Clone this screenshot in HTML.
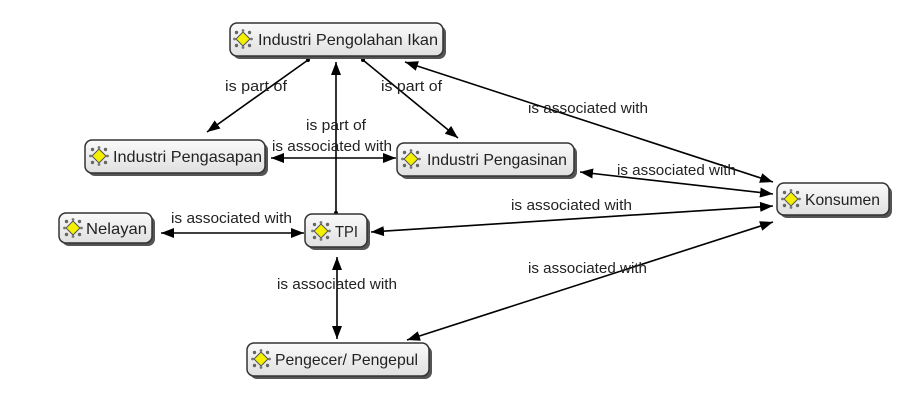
<!DOCTYPE html>
<html><head><meta charset="utf-8"><style>
html,body{margin:0;padding:0;background:#fff;}
svg{display:block;}
.n{font-family:"Liberation Sans",sans-serif;font-size:16px;fill:#222;}
.l{font-family:"Liberation Sans",sans-serif;font-size:15px;fill:#222;}
.e{stroke:#000;stroke-width:1.6;fill:none;}
</style></head><body>
<svg width="923" height="419" viewBox="0 0 923 419" xmlns="http://www.w3.org/2000/svg">
<defs>
<marker id="a" viewBox="0 0 13 10" refX="13" refY="5" markerWidth="13" markerHeight="10" markerUnits="userSpaceOnUse" orient="auto-start-reverse">
<path d="M0,0 L13,5 L0,10 z" fill="#000"/>
</marker>
<linearGradient id="g" x1="0" y1="0" x2="0" y2="1">
<stop offset="0" stop-color="#fafafa"/><stop offset="1" stop-color="#e0e0e0"/>
</linearGradient>
<g id="ic">
<circle cx="-6.5" cy="-6.5" r="1.7" fill="#666"/><circle cx="6.5" cy="-6.5" r="1.7" fill="#666"/>
<circle cx="-6.5" cy="6.5" r="1.7" fill="#666"/><circle cx="6.5" cy="6.5" r="1.7" fill="#666"/>
<circle cx="0" cy="-8.5" r="1.4" fill="#777"/><circle cx="0" cy="8.5" r="1.4" fill="#777"/>
<circle cx="-8.5" cy="0" r="1.4" fill="#777"/><circle cx="8.5" cy="0" r="1.4" fill="#777"/>
<path d="M0,-7 L7,0 L0,7 L-7,0 z" fill="#f4f000" stroke="#555" stroke-width="1"/>
</g>
</defs>

<!-- edges -->
<line class="e" x1="308" y1="60" x2="207" y2="132" marker-end="url(#a)"/>
<circle cx="308" cy="60" r="2" fill="#000"/>
<line class="e" x1="363" y1="60" x2="458" y2="138" marker-end="url(#a)"/>
<circle cx="363" cy="60" r="2" fill="#000"/>
<line class="e" x1="336" y1="213" x2="336" y2="62" marker-end="url(#a)"/>
<circle cx="336" cy="213" r="2" fill="#000"/>
<line class="e" x1="271" y1="158" x2="396" y2="158" marker-start="url(#a)" marker-end="url(#a)"/>
<line class="e" x1="405" y1="62" x2="773" y2="182" marker-start="url(#a)" marker-end="url(#a)"/>
<line class="e" x1="580" y1="172" x2="773" y2="194" marker-start="url(#a)" marker-end="url(#a)"/>
<line class="e" x1="371" y1="232" x2="773" y2="206" marker-start="url(#a)" marker-end="url(#a)"/>
<line class="e" x1="161" y1="233" x2="304" y2="233" marker-start="url(#a)" marker-end="url(#a)"/>
<line class="e" x1="337" y1="257" x2="337" y2="339" marker-start="url(#a)" marker-end="url(#a)"/>
<line class="e" x1="407" y1="340" x2="773" y2="222" marker-start="url(#a)" marker-end="url(#a)"/>

<!-- labels -->
<text class="l" x="225" y="91" textLength="62" lengthAdjust="spacingAndGlyphs">is part of</text>
<text class="l" x="381" y="91" textLength="61" lengthAdjust="spacingAndGlyphs">is part of</text>
<text class="l" x="306" y="130" textLength="60" lengthAdjust="spacingAndGlyphs">is part of</text>
<text class="l" x="272" y="151" textLength="120" lengthAdjust="spacingAndGlyphs">is associated with</text>
<text class="l" x="528" y="113" textLength="120" lengthAdjust="spacingAndGlyphs">is associated with</text>
<text class="l" x="617" y="175" textLength="119" lengthAdjust="spacingAndGlyphs">is associated with</text>
<text class="l" x="511" y="210" textLength="121" lengthAdjust="spacingAndGlyphs">is associated with</text>
<text class="l" x="171" y="223" textLength="121" lengthAdjust="spacingAndGlyphs">is associated with</text>
<text class="l" x="277" y="289" textLength="120" lengthAdjust="spacingAndGlyphs">is associated with</text>
<text class="l" x="528" y="273" textLength="119" lengthAdjust="spacingAndGlyphs">is associated with</text>

<!-- nodes -->
<g>
<rect x="233" y="26" width="213" height="33" rx="7" fill="#555"/>
<rect x="230" y="23" width="213" height="33" rx="7" fill="url(#g)" stroke="#333" stroke-width="1.5"/>
<use href="#ic" x="243" y="39"/>
<text class="n" x="258" y="45" textLength="180" lengthAdjust="spacingAndGlyphs">Industri Pengolahan Ikan</text>
</g>
<g>
<rect x="88" y="143" width="180" height="33" rx="7" fill="#555"/>
<rect x="85" y="140" width="180" height="33" rx="7" fill="url(#g)" stroke="#333" stroke-width="1.5"/>
<use href="#ic" x="99" y="156"/>
<text class="n" x="113" y="162" textLength="149" lengthAdjust="spacingAndGlyphs">Industri Pengasapan</text>
</g>
<g>
<rect x="62" y="216" width="93" height="30" rx="7" fill="#555"/>
<rect x="59" y="213" width="93" height="30" rx="7" fill="url(#g)" stroke="#333" stroke-width="1.5"/>
<use href="#ic" x="73" y="228"/>
<text class="n" x="86" y="234" textLength="61" lengthAdjust="spacingAndGlyphs">Nelayan</text>
</g>
<g>
<rect x="308" y="217" width="62" height="33" rx="7" fill="#555"/>
<rect x="305" y="214" width="62" height="33" rx="7" fill="url(#g)" stroke="#333" stroke-width="1.5"/>
<use href="#ic" x="321" y="231"/>
<text class="n" x="335" y="237" textLength="23" lengthAdjust="spacingAndGlyphs">TPI</text>
</g>
<g>
<rect x="400" y="146" width="177" height="33" rx="7" fill="#555"/>
<rect x="397" y="143" width="177" height="33" rx="7" fill="url(#g)" stroke="#333" stroke-width="1.5"/>
<use href="#ic" x="411" y="159"/>
<text class="n" x="427" y="165" textLength="140" lengthAdjust="spacingAndGlyphs">Industri Pengasinan</text>
</g>
<g>
<rect x="780" y="186" width="112" height="32" rx="7" fill="#555"/>
<rect x="777" y="183" width="112" height="32" rx="7" fill="url(#g)" stroke="#333" stroke-width="1.5"/>
<use href="#ic" x="791" y="199"/>
<text class="n" x="805" y="205" textLength="75" lengthAdjust="spacingAndGlyphs">Konsumen</text>
</g>
<g>
<rect x="250" y="346" width="182" height="33" rx="7" fill="#555"/>
<rect x="247" y="343" width="182" height="33" rx="7" fill="url(#g)" stroke="#333" stroke-width="1.5"/>
<use href="#ic" x="261" y="359"/>
<text class="n" x="275" y="365" textLength="143" lengthAdjust="spacingAndGlyphs">Pengecer/ Pengepul</text>
</g>
</svg>
</body></html>
